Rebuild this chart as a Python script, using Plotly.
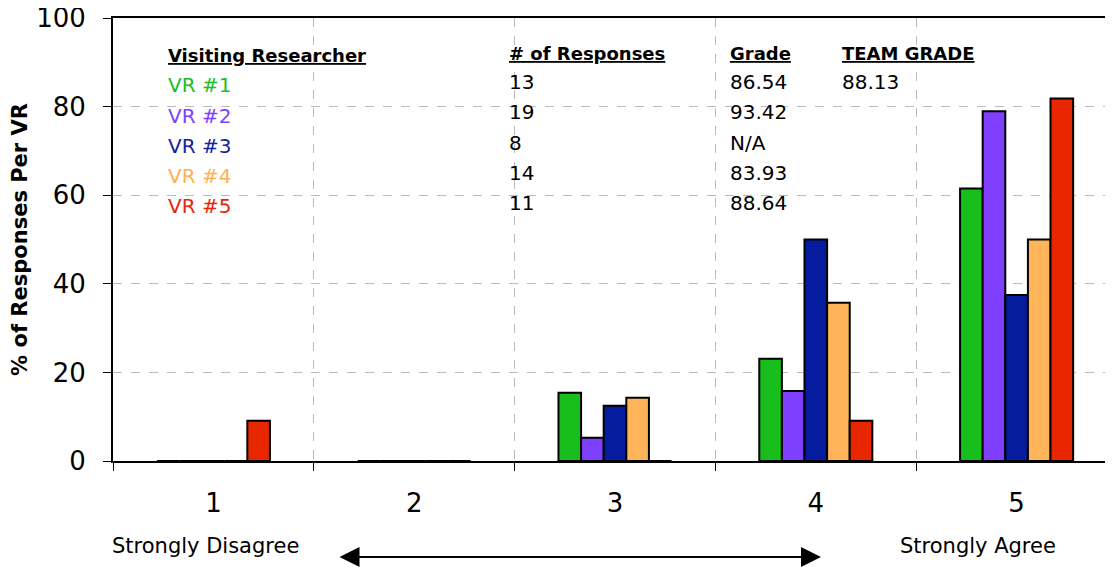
import plotly.graph_objects as go

categories = ["1", "2", "3", "4", "5"]
vr_names = ["VR #1", "VR #2", "VR #3", "VR #4", "VR #5"]
vr1 = [0, 0, 15.38, 23.08, 61.54]
vr2 = [0, 0, 5.26, 15.79, 78.95]
vr3 = [0, 0, 12.5, 50.0, 37.5]
vr4 = [0, 0, 14.29, 35.71, 50.0]
vr5 = [9.09, 0, 0, 9.09, 81.82]
responses = ["13", "19", "8", "14", "11"]
grades = ["86.54", "93.42", "N/A", "83.93", "88.64"]
team_grade = "88.13"
y_ticks = [0, 20, 40, 60, 80, 100]

bar_colors = ["#17BE1C", "#7F3FFF", "#061C9F", "#FFB45A", "#E82700"]
text_colors = ["#1DBE22", "#8040FF", "#1423A0", "#FFB050", "#E8250A"]
series = [vr1, vr2, vr3, vr4, vr5]

FONT = "DejaVu Sans"
OFF = 8  # page body margin
W, H = 1113, 567
L, T = 113 - OFF, 18 - OFF
BOTTOM_WIN = 461
B = H - (BOTTOM_WIN - OFF)
R = W - (1117 - OFF)
PW, PH = W - L - R, H - T - B


def px(xw):
    return (xw - OFF - L) / PW


def py(yw):
    return (H - B - (yw - OFF)) / PH


fig = go.Figure()
for name, vals, col in zip(vr_names, series, bar_colors):
    fig.add_trace(go.Bar(
        x=categories, y=vals, name=name,
        marker=dict(color=col, line=dict(color="black", width=2)),
    ))

ann = []


def txt(x, y, s, color="black", size=20, bold=False, under=False):
    t = s
    if under:
        t = "<u>" + t + "</u>"
    if bold:
        t = "<b>" + t + "</b>"
    ann.append(dict(x=px(x), y=py(y), xref="paper", yref="paper", text=t,
                    showarrow=False, xanchor="left", yanchor="middle",
                    font=dict(family=FONT, size=size, color=color)))


txt(166, 56, "Visiting Researcher", size=18, bold=True, under=True)
txt(507, 53, "# of Responses", size=18, bold=True, under=True)
txt(728, 53, "Grade", size=18, bold=True, under=True)
txt(840, 53, "TEAM GRADE", size=18, bold=True, under=True)
rows_vr = [85, 116, 146, 176, 206]
rows_n = [82, 112, 143, 173, 203]
for i in range(5):
    txt(166, rows_vr[i], vr_names[i], color=text_colors[i], size=20)
    txt(507, rows_n[i], responses[i], size=20)
    txt(728, rows_n[i], grades[i], size=20)
txt(840, rows_n[0], team_grade, size=20)

ann.append(dict(x=px(205), y=py(546), xref="paper", yref="paper",
                text="Strongly Disagree", showarrow=False, xanchor="center",
                yanchor="middle", font=dict(family=FONT, size=21, color="black")))
ann.append(dict(x=px(978), y=py(546), xref="paper", yref="paper",
                text="Strongly Agree", showarrow=False, xanchor="center",
                yanchor="middle", font=dict(family=FONT, size=21, color="black")))
ann.append(dict(x=px(821), y=py(557), xref="paper", yref="paper", text="",
                showarrow=True, ax=-(821 - 338), ay=0, arrowside="end+start",
                arrowhead=2, arrowsize=2.0, arrowwidth=2, arrowcolor="black",
                standoff=0, startstandoff=0))

fig.update_layout(
    width=W, height=H,
    margin=dict(l=L, r=R, t=T, b=B, pad=0, autoexpand=False),
    paper_bgcolor="white", plot_bgcolor="white",
    barmode="group", bargap=0.437, bargroupgap=0,
    showlegend=False,
    font=dict(family=FONT, color="black"),
    annotations=ann,
    xaxis=dict(
        type="category", range=[-0.5, 4.5], tickson="boundaries",
        showgrid=True, gridcolor="#BBBBBB", griddash="dash", gridwidth=1,
        showline=True, linecolor="black", linewidth=2, mirror=True,
        ticks="outside", ticklen=8, tickwidth=1, tickcolor="black",
        tickfont=dict(family=FONT, size=26, color="black"),
        ticklabelstandoff=18, zeroline=False, automargin=False,
    ),
    yaxis=dict(
        range=[0, 100], tickvals=y_ticks,
        showgrid=True, gridcolor="#BBBBBB", griddash="dash", gridwidth=1,
        showline=True, linecolor="black", linewidth=2, mirror=False,
        ticks="outside", ticklen=8, tickwidth=1, tickcolor="black",
        tickfont=dict(family=FONT, size=26, color="black"),
        ticklabelstandoff=12, ticklabeloverflow="allow",
        zeroline=False, automargin=False,
        title=dict(text="<b>% of Responses Per VR</b>",
                   font=dict(family=FONT, size=21, color="black"), standoff=16),
    ),
)

fig.write_html("out.html")
